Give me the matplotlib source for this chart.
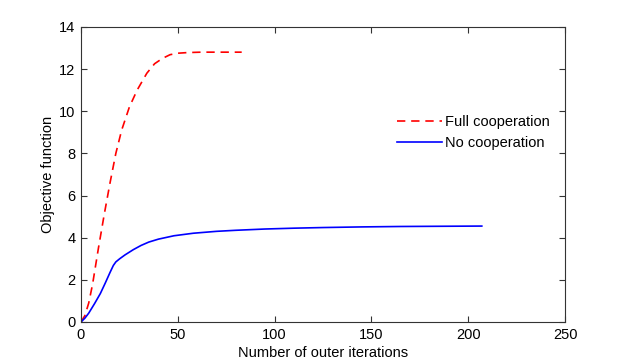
import matplotlib
matplotlib.use("Agg")
import matplotlib.pyplot as plt

plt.rcParams["font.family"] = ["Liberation Sans", "DejaVu Sans"]

# values
full_x = [0, 2, 4, 6, 9, 12, 15, 18, 21, 25, 29, 34, 38, 42, 46, 50, 55, 62, 70, 83]
full_y = [0, 0.3, 0.9, 1.8, 3.5, 5.1, 6.6, 8.0, 9.1, 10.2, 11.0, 11.8, 12.25, 12.5, 12.68, 12.75, 12.78, 12.8, 12.8, 12.8]

no_x = [0, 2, 4, 7, 10, 12.5, 15, 16.7, 18, 20, 22.7, 27, 31, 35, 40, 48, 58, 70, 80, 95, 110, 125, 145, 165, 185, 207]
no_y = [0, 0.18, 0.42, 0.87, 1.35, 1.84, 2.35, 2.68, 2.85, 3.0, 3.18, 3.43, 3.63, 3.79, 3.93, 4.09, 4.21, 4.3, 4.35, 4.41, 4.45, 4.48, 4.51, 4.53, 4.54, 4.55]

labels = ["Full cooperation", "No cooperation"]

fig = plt.figure(figsize=(6.23, 3.63), dpi=100)
ax = fig.add_axes([0.130, 0.113, 0.777, 0.813])

ax.plot(full_x, full_y, color="#ff0000", linestyle=(0, (5, 3.5)), lw=1.2, label=labels[0])
ax.plot(no_x, no_y, color="#0000ff", lw=1.2, label=labels[1])

ax.set_xlim(0, 250)
ax.set_ylim(0, 14)
ax.set_xticks(range(0, 251, 50))
ax.set_yticks(range(0, 15, 2))
ax.tick_params(direction="in", top=True, right=True, labelsize=10.5, length=4, width=0.8, color="#333333", pad=4)
for s in ax.spines.values():
    s.set_color("#333333")
    s.set_linewidth(0.8)

ax.set_xlabel("Number of outer iterations", fontsize=10.5, labelpad=3)
ax.set_ylabel("Objective function", fontsize=10.5, labelpad=3)

ax.legend(loc="upper left", bbox_to_anchor=(0.64, 0.72), frameon=False, fontsize=10.5,
          handlelength=3.1, handletextpad=0.25, labelspacing=0.45, borderaxespad=0)

fig.savefig("out.png", dpi=100)
